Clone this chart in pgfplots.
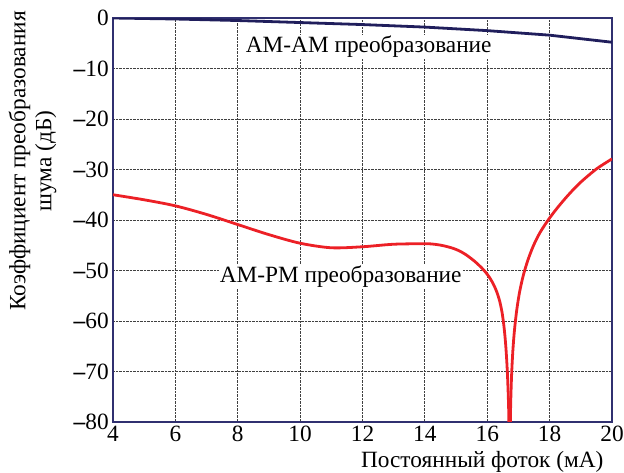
\documentclass[border=0pt]{standalone}
\usepackage{fontspec}
\setmainfont{Liberation Serif}
\usepackage{pgfplots}
\pgfplotsset{compat=1.18}
\definecolor{framec}{RGB}{48,48,112}
\definecolor{amam}{RGB}{32,30,92}
\definecolor{ampm}{RGB}{236,32,38}

\begin{document}
\begin{tikzpicture}[font=\fontsize{23.3}{26}\selectfont]
\path[use as bounding box] (-113pt,-51pt) rectangle (511pt,422pt);
\begin{axis}[
  at={(0pt,0pt)}, anchor=south west,
  scale only axis,
  width=499pt, height=404pt,
  xmin=4, xmax=20, ymin=-80, ymax=0,
  xtick={4,6,...,20},
  xticklabels={4,6,8,10,12,14,16,18,20},
  ytick={-80,-70,...,0},
  yticklabels={\textbf{–}80,\textbf{–}70,\textbf{–}60,\textbf{–}50,\textbf{–}40,\textbf{–}30,\textbf{–}20,\textbf{–}10,0},
  major tick length=0pt,
  grid=major,
  grid style={densely dotted, line width=0.8pt, black!75},
  axis line style={framec, line width=2pt},
  xticklabel style={inner sep=4pt},
  yticklabel style={inner sep=4pt},
  xlabel={Постоянный фоток (мА)},
  xlabel style={at={(axis description cs:0.740,-0.099)}, anchor=center},
  ylabel={Коэффициент преобразования\\шума (дБ)},
  ylabel style={at={(axis description cs:-0.161,0.646)}, anchor=center, align=center},
  clip=true,
]
% AM-AM
\addplot[amam, line width=2.8pt] coordinates {
  (4,0) (6,-0.2) (8,-0.5) (10,-0.9) (12,-1.3) (14,-1.8) (16,-2.5) (18,-3.4) (20,-4.8)
};
% AM-PM, left of the null
\addplot[ampm, line width=2.8pt, smooth, tension=0.5] coordinates {
  (4,-35.0) (5,-36.0) (6,-37.2) (7,-38.9) (8,-40.9) (9,-42.9) (10,-44.6)
  (11,-45.5) (12,-45.3) (13,-44.8) (14,-44.7) (14.3,-44.8) (14.6,-45.1)
  (14.9,-45.6) (15.1,-46.1) (15.3,-46.8) (15.5,-47.7) (15.6,-48.2)
  (15.7,-48.75) (15.8,-49.35) (15.9,-50.0) (16.0,-50.75) (16.1,-51.65)
  (16.2,-52.75) (16.3,-54.15) (16.4,-56.1) (16.48,-58.5) (16.54,-61.3)
  (16.59,-64.6) (16.63,-68.4) (16.66,-72.4) (16.69,-78.5) (16.71,-90)
};
% AM-PM, right of the null
\addplot[ampm, line width=2.8pt, smooth, tension=0.5] coordinates {
  (16.71,-90) (16.73,-84.3) (16.75,-76.8) (16.78,-70.8) (16.82,-66.0)
  (16.87,-62.0) (16.94,-58.1) (17.03,-54.5) (17.15,-51.1) (17.30,-48.0)
  (17.48,-45.1) (17.70,-42.4) (18.0,-39.6) (18.3,-37.2)
  (18.65,-34.7) (19.0,-32.5) (19.5,-29.9) (20,-27.9)
};
\node[fill=white, inner sep=1pt] at (axis cs:12.2,-5.7) {AM-AM преобразование};
\node[fill=white, inner sep=1pt] at (axis cs:11.3,-51.3) {AM-PM преобразование};
\end{axis}
\end{tikzpicture}
\end{document}
